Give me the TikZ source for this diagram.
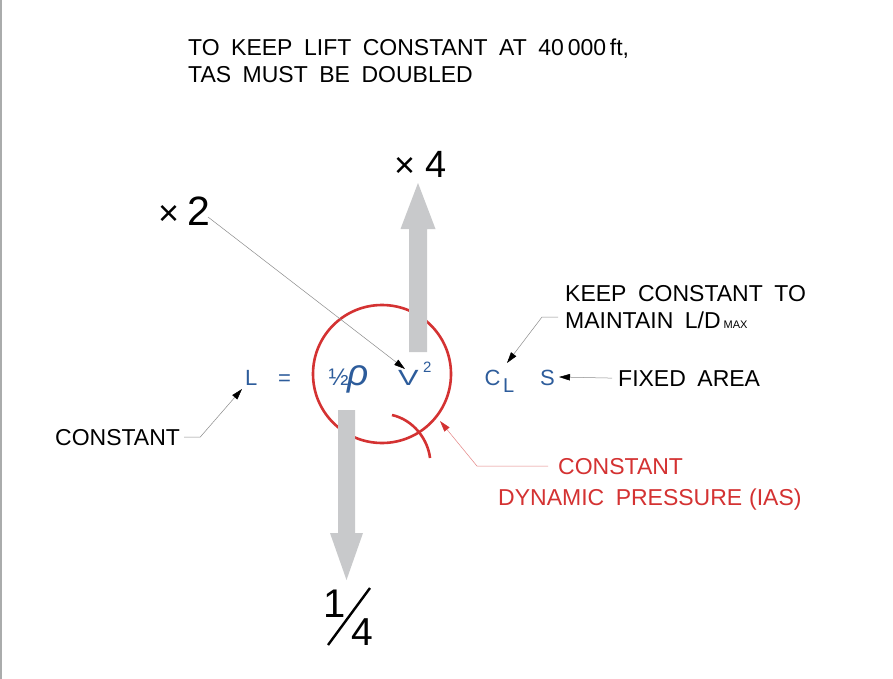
\documentclass[tikz,border=0pt]{standalone}
\usepackage{fontspec}
\usepackage{graphicx}
\setmainfont{Liberation Sans}
\usetikzlibrary{arrows.meta}
\definecolor{fblue}{RGB}{45,92,155}
\definecolor{fred}{RGB}{212,50,50}
\definecolor{afill}{RGB}{200,201,203}
\definecolor{leadgray}{RGB}{140,140,140}
\definecolor{edgegray}{RGB}{170,172,172}
\tikzset{
  lbl/.style={inner sep=0pt, anchor=base west, text=black,
    font={\fontsize{23}{27}\selectfont\spaceskip=0.5em\relax}},
  frm/.style={inner sep=0pt, anchor=base west, text=fblue,
    font={\fontsize{22}{26}\selectfont}},
  big/.style={inner sep=0pt, anchor=base west, text=black},
  lead/.style={draw=leadgray, line width=0.5pt, arrows={-{Triangle[length=11pt,width=6.5pt,color=black]}}},
  redlead/.style={draw=fred!60, line width=0.5pt, arrows={-{Triangle[length=11pt,width=6.5pt,color=fred]}}},
  bigarrow/.style={fill=afill, draw=none},
}
\begin{document}
\begin{tikzpicture}[x=1pt,y=-1pt]
\useasboundingbox (0,0) rectangle (893,679);
\fill[white] (0,0) rectangle (893,679);
\draw[edgegray, line width=1.6pt] (0.8,0) -- (0.8,679);

% title
\node[lbl] (title1) at (188,56) {TO KEEP LIFT CONSTANT AT 40\,000\,ft,};
\node[lbl] (title2) at (188,83) {TAS MUST BE DOUBLED};

% red circle and small arc
\draw[fred, line width=2.6pt] (382,374) circle[radius=69];
\draw[fred, line width=2.6pt] (392,415) .. controls (414,420) and (428,440) .. (430,458);

% big arrows
\fill[bigarrow] (409,352) -- (409,229) -- (400.5,229) -- (418,183) -- (435.5,229) -- (427,229) -- (427,352) -- cycle;
\fill[bigarrow] (338,410) -- (338,533) -- (330,533) -- (346.5,580) -- (363,533) -- (355,533) -- (355,410) -- cycle;

% multipliers
\node[big] (x4) at (394,177) {{\fontsize{36}{40}\selectfont×}\hspace{10pt}{\fontsize{38}{42}\selectfont 4}};
\node[big] (x2) at (158,225) {{\fontsize{36}{40}\selectfont×}\hspace{8pt}{\fontsize{41}{45}\selectfont 2}};

% one quarter
\node[big, font=\fontsize{40}{44}\selectfont] (one) at (323.5,617) {1};
\node[big, font=\fontsize{39}{43}\selectfont] (four) at (351.5,645) {4};
\draw[black, line width=2.4pt] (328,645) -- (370,588);

% formula
\node[frm] (L) at (245,385) {L};
\node[frm] (eq) at (278,385) {=};
\node[frm, font={\fontsize{24}{26}\selectfont}] (half) at (328.5,385) {½};
\node[frm, font={\fontsize{37}{40}\selectfont\itshape}] (rho) at (347,385) {ρ};
\node[frm] (V) at (398,385) {\scalebox{1.4}[1]{V}};
\node[frm, font={\fontsize{15}{17}\selectfont}] (Vsq) at (423,372) {2};
\node[frm] (C) at (484.5,385) {C};
\node[frm, font={\fontsize{20}{24}\selectfont}] (CL) at (503,392) {L};
\node[frm] (S) at (540,385) {S};

% labels
\node[lbl] (constant) at (55,445) {CONSTANT};
\node[lbl] (keep) at (565,301) {KEEP CONSTANT TO};
\node[lbl] (maintain) at (565,328) {MAINTAIN L/D\hspace{3pt}{\fontsize{11}{13}\selectfont MAX}};
\node[lbl] (fixed) at (618,386) {FIXED AREA};
\node[lbl, text=fred] (rc1) at (558,474) {CONSTANT};
\node[lbl, text=fred] (rc2) at (498,505) {DYNAMIC PRESSURE\hspace{0.3em}(IAS)};

% leader tips
\coordinate (Ltip) at (242,389);
\coordinate (Vtip) at (405,369);
\coordinate (CLtip) at (507,363);
\coordinate (Stip) at (559,377);
\coordinate (circtip) at (440,421);
\coordinate (x2s) at (208,217);
\coordinate (k1) at (558,317);

\draw[lead] ([xshift=4pt]constant.east) -- ++(16,0) -- (Ltip);
\draw[lead] (x2s) -- (Vtip);
\draw[lead] (k1) -- ++(-16,0) -- (CLtip);
\draw[lead] ([xshift=-6pt]fixed.west) -- (Stip);
\draw[redlead] ([xshift=-10pt]rc1.west) -- ++(-71,0) -- (circtip);
\end{tikzpicture}
\end{document}
